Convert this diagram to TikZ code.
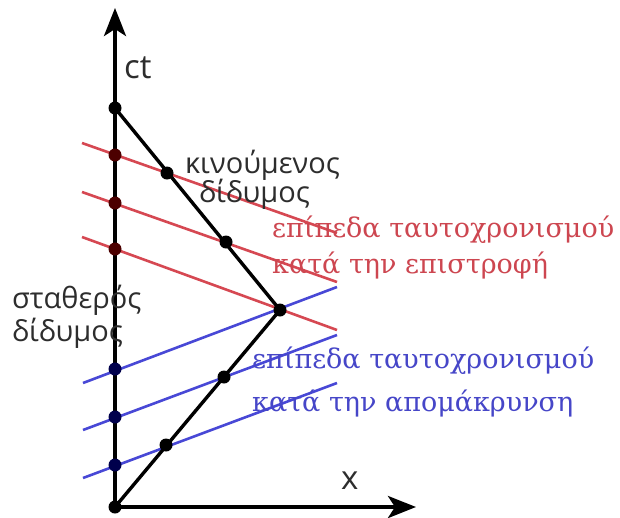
\documentclass[tikz,border=0pt]{standalone}
\usepackage{fontspec}
\setmainfont{Open Sans}
\newfontfamily\serifgr{DejaVu Serif}
\usetikzlibrary{arrows.meta}
\definecolor{simred}{RGB}{214,72,82}
\definecolor{simblue}{RGB}{72,72,214}
\definecolor{txtred}{RGB}{205,70,80}
\definecolor{txtblue}{RGB}{70,70,200}
\definecolor{txtgray}{RGB}{45,45,45}
\tikzset{
  axis/.style={line width=4pt,-{Stealth[length=28pt,width=22pt,inset=7pt]}},
  world/.style={line width=3.4pt},
  redplane/.style={simred,line width=2.6pt},
  blueplane/.style={simblue,line width=2.6pt},
  ev/.style={circle,fill=black,inner sep=0pt,minimum size=13pt},
  evr/.style={circle,fill=black!70!red,inner sep=0pt,minimum size=13pt},
  evb/.style={circle,fill=black!70!blue,inner sep=0pt,minimum size=13pt},
  lbl/.style={font=\fontsize{29}{30}\selectfont,text=txtgray,inner sep=0pt,anchor=west},
  axlbl/.style={font=\fontsize{33}{34}\selectfont,text=txtgray,inner sep=0pt,anchor=west},
  rlbl/.style={font=\serifgr\fontsize{27}{30}\selectfont,text=txtred,inner sep=0pt,anchor=west},
  blbl/.style={font=\serifgr\fontsize{27}{30}\selectfont,text=txtblue,inner sep=0pt,anchor=west},
}
\begin{document}
\begin{tikzpicture}[x=1pt,y=-1pt]
\useasboundingbox[fill=white] (0,0) rectangle (620,517);
% coordinates
\coordinate (O) at (115,507);
\coordinate (ytop) at (115,8);
\coordinate (xend) at (416,507);
\coordinate (T) at (280,310);
\coordinate (R) at (115,108);
% simultaneity planes (return, red)
\coordinate (r1a) at (82,143);  \coordinate (r1b) at (337,233);
\coordinate (r2a) at (82,192);  \coordinate (r2b) at (337,282);
\coordinate (r3a) at (82,237);  \coordinate (r3b) at (337,330);
% simultaneity planes (outbound, blue)
\coordinate (b1a) at (83,383);  \coordinate (b1b) at (337,287);
\coordinate (b2a) at (83,430);  \coordinate (b2b) at (337,335);
\coordinate (b3a) at (83,478);  \coordinate (b3b) at (337,383);
% lines
\draw[redplane] (r1a) -- (r1b);
\draw[redplane] (r2a) -- (r2b);
\draw[redplane] (r3a) -- (r3b);
\draw[blueplane] (b1a) -- (b1b);
\draw[blueplane] (b2a) -- (b2b);
\draw[blueplane] (b3a) -- (b3b);
\draw[axis] (O) -- (ytop);
\draw[axis] (O) -- (xend);
\draw[world] (O) -- (T) -- (R);
% events
\node[ev] (eO) at (O) {};
\node[ev] (eR) at (R) {};
\node[ev] (eT) at (T) {};
\node[ev] (m1) at (166,445) {};
\node[ev] (m2) at (224,377) {};
\node[ev] (m3) at (226,242) {};
\node[ev] (m4) at (167,173) {};
\node[evr] (s1) at (115,155) {};
\node[evr] (s2) at (115,203) {};
\node[evr] (s3) at (115,249) {};
\node[evb] (s4) at (115,369) {};
\node[evb] (s5) at (115,417) {};
\node[evb] (s6) at (115,465) {};
% labels
\node[axlbl] (ct) at (124,68) {ct};
\node[axlbl] (xl) at (341,481) {x};
\node[lbl] (mov1) at (185,165) {κινούμενος};
\node[lbl] (mov2) at (199,194) {δίδυμος};
\node[lbl] (sta1) at (12,300) {σταθερός};
\node[lbl] (sta2) at (12,333) {δίδυμος};
\node[rlbl] (rt1) at (272,230) {επίπεδα ταυτοχρονισμού};
\node[rlbl] (rt2) at (272,266) {κατά την επιστροφή};
\node[blbl] (bt1) at (252,361) {επίπεδα ταυτοχρονισμού};
\node[blbl] (bt2) at (252,404) {κατά την απομάκρυνση};
\end{tikzpicture}
\end{document}
